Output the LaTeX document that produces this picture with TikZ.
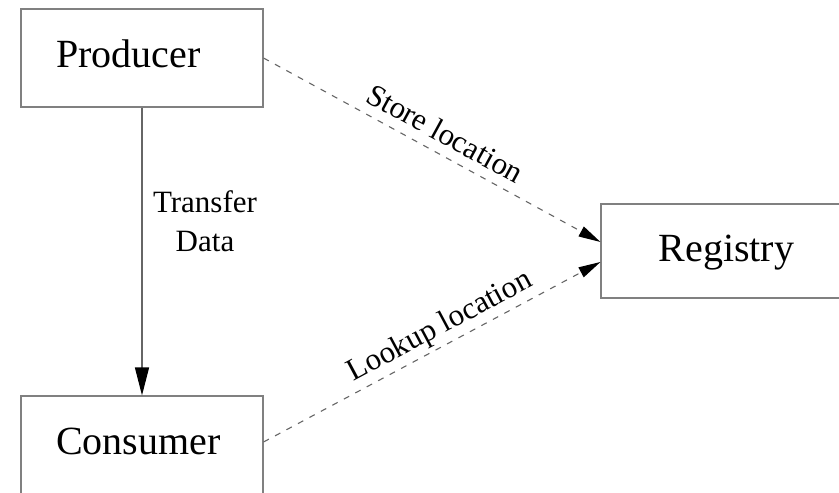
\documentclass[tikz,border=0pt]{standalone}
\usepackage{fontspec}
\setmainfont{Liberation Serif}
\usetikzlibrary{arrows.meta}
\begin{document}
\begin{tikzpicture}[x=1pt,y=1pt,
  box/.style={draw=black!50, line width=1.1pt, minimum width=242pt, minimum height=98pt, inner sep=0pt},
  boxname/.style={font=\fontsize{40}{48}\selectfont, anchor=base, inner sep=0pt},
  elabel/.style={font=\fontsize{31}{39}\selectfont, text=black},
  solidarrow/.style={draw=black!60, line width=1.3pt, -{Triangle[length=28pt,width=14pt,color=black]}},
  dasharrow/.style={draw=black!60, line width=1.1pt, dash pattern=on 6pt off 7pt, -{Triangle[length=22pt,width=11pt,color=black]}},
  slopelabel/.style={elabel, sloped, anchor=south, text depth=0pt, inner xsep=0pt, inner ysep=10pt},
]
\useasboundingbox (0,0) rectangle (839,493);
\fill[white] (0,0) rectangle (839,493);
\clip (0,0) rectangle (839,493);

\node[box] (P) at (142,435) {};
\node[box] (C) at (142,48) {};
\node[box, minimum height=94pt] (R) at (722,242) {};

\node[boxname] (Pt) at (128.5,425) {Producer};
\node[boxname] (Ct) at (138.5,38) {Consumer};
\node[boxname] (Rt) at (726.5,231) {Registry};

\draw[solidarrow] (P.south) -- (C.north);
\node[elabel, align=center, anchor=base, inner sep=0pt] (T) at (205,241) {Transfer\\Data};

\draw[dasharrow] (P.east) -- node[slopelabel, pos=0.51] (SL) {Store location} ([yshift=9pt]R.west);
\draw[dasharrow] ([yshift=3pt]C.east) -- node[slopelabel, pos=0.55] (LL) {Lookup location} ([yshift=-11pt]R.west);
\end{tikzpicture}
\end{document}
